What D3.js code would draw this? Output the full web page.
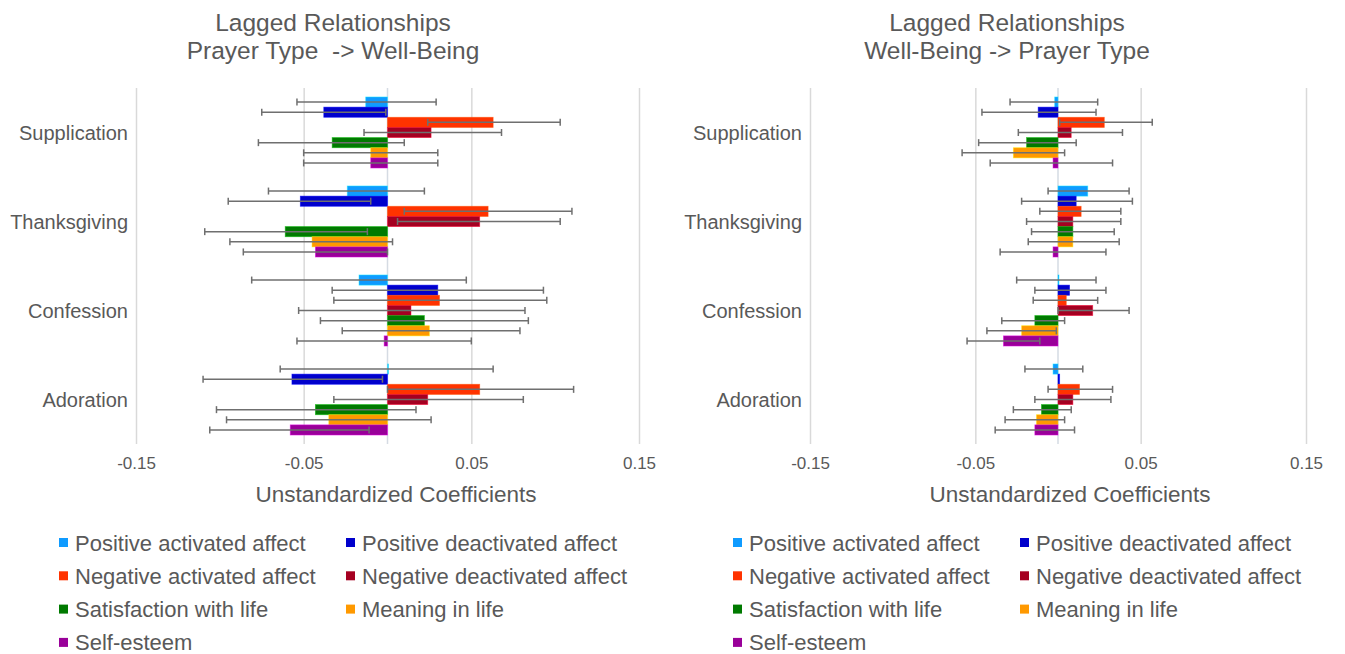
<!DOCTYPE html>
<html>
<head>
<meta charset="utf-8">
<script src="https://cdn.jsdelivr.net/npm/d3@7"></script>
<style>
  body { margin: 0; background: #fff; }
  text { font-family: "Liberation Sans", Arial, sans-serif; fill: #595959; }
</style>
</head>
<body>
<div id="chart"></div>
<script>
var categories = ["Supplication", "Thanksgiving", "Confession", "Adoration"];
var series = ["Positive activated affect", "Positive deactivated affect",
              "Negative activated affect", "Negative deactivated affect",
              "Satisfaction with life", "Meaning in life", "Self-esteem"];
var colors = ["#0f9bff", "#0000cc", "#ff3300", "#a50021", "#007a00", "#ff9900", "#990099"];
var tickValues = [-0.15, -0.05, 0.05, 0.15];

// Prayer Type -> Well-Being (rows = categories, cols = series)
var leftValues = [
  [-0.013, -0.038, 0.063, 0.026, -0.033, -0.010, -0.010],
  [-0.024, -0.052, 0.060, 0.055, -0.061, -0.045, -0.043],
  [-0.017, 0.030, 0.031, 0.014, 0.022, 0.025, -0.002],
  [0.000, -0.057, 0.055, 0.024, -0.043, -0.035, -0.058]
];
var leftLow = [
  [-0.054, -0.075, 0.024, -0.014, -0.077, -0.050, -0.050],
  [-0.071, -0.095, 0.010, 0.006, -0.109, -0.094, -0.086],
  [-0.081, -0.033, -0.032, -0.053, -0.040, -0.027, -0.054],
  [-0.064, -0.110, 0.000, -0.032, -0.102, -0.096, -0.106]
];
var leftHigh = [
  [0.029, -0.001, 0.103, 0.068, 0.010, 0.030, 0.030],
  [0.022, -0.010, 0.110, 0.103, -0.012, 0.003, 0.000],
  [0.047, 0.093, 0.095, 0.082, 0.084, 0.079, 0.050],
  [0.063, -0.003, 0.111, 0.081, 0.017, 0.026, -0.011]
];

// Well-Being -> Prayer Type
var rightValues = [
  [-0.002, -0.012, 0.028, 0.008, -0.019, -0.027, -0.003],
  [0.018, 0.011, 0.014, 0.009, 0.009, 0.009, -0.003],
  [0.000, 0.007, 0.005, 0.021, -0.014, -0.022, -0.033],
  [-0.003, 0.001, 0.013, 0.009, -0.010, -0.013, -0.014]
];
var rightLow = [
  [-0.029, -0.046, 0.001, -0.024, -0.048, -0.058, -0.041],
  [-0.006, -0.022, -0.011, -0.019, -0.016, -0.018, -0.035],
  [-0.025, -0.014, -0.015, 0.000, -0.034, -0.043, -0.055],
  [-0.020, null, -0.006, -0.014, -0.027, -0.032, -0.038]
];
var rightHigh = [
  [0.024, 0.023, 0.057, 0.039, 0.011, 0.004, 0.033],
  [0.043, 0.045, 0.038, 0.038, 0.034, 0.037, 0.029],
  [0.023, 0.029, 0.024, 0.043, 0.004, -0.001, -0.011],
  [0.015, null, 0.033, 0.032, 0.008, 0.004, 0.010]
];

var width = 1345, height = 654,
    plotTop = 88, plotBottom = 444;

var svg = d3.select("#chart")
            .append("svg")
            .attr("width", width)
            .attr("height", height);

function drawChart(left, right, titleLines, values, low, high) {
  var g = svg.append("g");

  var x = d3.scaleLinear().domain([-0.15, 0.15]).range([left, right]);
  var y = d3.scaleBand().domain(categories).range([plotTop, plotBottom]).padding(0);
  var yInner = d3.scaleBand().domain(series).range([0, y.bandwidth()])
                 .paddingInner(0).paddingOuter(0.885);

  // gridlines
  g.append("g")
   .attr("transform", "translate(0," + plotBottom + ")")
   .call(d3.axisBottom(x).tickValues(tickValues).tickSize(-(plotBottom - plotTop)).tickFormat(""))
   .call(function(a) {
     a.select(".domain").remove();
     a.selectAll("line").attr("stroke", "#d9d9d9").attr("stroke-width", 1.5);
   });

  // tick labels
  g.append("g")
   .attr("transform", "translate(0," + (plotBottom + 10) + ")")
   .call(d3.axisBottom(x).tickValues(tickValues).tickSize(0).tickFormat(function(d) { return d.toFixed(2) }))
   .call(function(a) {
     a.select(".domain").remove();
     a.selectAll("text").attr("font-size", "17px").attr("fill", "#595959")
      .style("font-family", "Liberation Sans, Arial, sans-serif");
   });

  // zero line
  g.append("line")
   .attr("x1", x(0)).attr("x2", x(0))
   .attr("y1", plotTop).attr("y2", plotBottom)
   .attr("stroke", "#d5dbe3").attr("stroke-width", 1.5);

  var rows = [];
  categories.forEach(function(c, i) {
    series.forEach(function(s, j) {
      rows.push({ cat: c, ser: s, j: j, v: values[i][j], lo: low[i][j], hi: high[i][j] });
    });
  });

  g.selectAll(".bar")
   .data(rows)
   .enter()
   .append("rect")
   .attr("class", "bar")
   .attr("x", function(d) { return x(Math.min(0, d.v)) })
   .attr("y", function(d) { return y(d.cat) + yInner(d.ser) })
   .attr("width", function(d) { return Math.max(1, Math.abs(x(d.v) - x(0))) })
   .attr("height", yInner.bandwidth())
   .attr("fill", function(d) { return colors[d.j] })
   .attr("stroke", function(d) { return d3.color(colors[d.j]).brighter(1.2) })
   .attr("stroke-opacity", 0.6)
   .attr("stroke-width", 0.8);

  var eb = rows.filter(function(d) { return d.lo != null });
  var cy = function(d) { return y(d.cat) + yInner(d.ser) + yInner.bandwidth() / 2 };

  g.selectAll(".err")
   .data(eb)
   .enter()
   .append("line")
   .attr("class", "err")
   .attr("x1", function(d) { return x(d.lo) })
   .attr("x2", function(d) { return x(d.hi) })
   .attr("y1", cy).attr("y2", cy)
   .attr("stroke", "#6f6f6f").attr("stroke-width", 1.5);

  ["lo", "hi"].forEach(function(k) {
    g.selectAll(".cap-" + k)
     .data(eb)
     .enter()
     .append("line")
     .attr("class", "cap-" + k)
     .attr("x1", function(d) { return x(d[k]) })
     .attr("x2", function(d) { return x(d[k]) })
     .attr("y1", function(d) { return cy(d) - 3.5 })
     .attr("y2", function(d) { return cy(d) + 3.5 })
     .attr("stroke", "#6f6f6f").attr("stroke-width", 1.5);
  });

  // category labels
  g.selectAll(".cat")
   .data(categories)
   .enter()
   .append("text")
   .attr("class", "cat")
   .text(function(d) { return d })
   .attr("x", left - 8)
   .attr("y", function(d) { return y(d) + y.bandwidth() / 2 })
   .attr("text-anchor", "end")
   .attr("dominant-baseline", "central")
   .attr("font-size", "20px");

  // title
  g.selectAll(".title")
   .data(titleLines)
   .enter()
   .append("text")
   .attr("class", "title")
   .text(function(d) { return d })
   .attr("x", left + 197)
   .attr("y", function(d, i) { return 22 + i * 28 })
   .attr("text-anchor", "middle")
   .attr("dominant-baseline", "central")
   .attr("font-size", "24.5px")
   .style("white-space", "pre");

  // axis title
  g.append("text")
   .text("Unstandardized Coefficients")
   .attr("x", left + 260)
   .attr("y", 494)
   .attr("text-anchor", "middle")
   .attr("dominant-baseline", "central")
   .attr("font-size", "22.5px");

  // legend
  var leg = g.selectAll(".leg")
             .data(series)
             .enter()
             .append("g")
             .attr("class", "leg")
             .attr("transform", function(d, i) {
               return "translate(" + (left + (i % 2 ? 210 : -77)) + "," + (543 + Math.floor(i / 2) * 33.3) + ")";
             });
  leg.append("rect")
     .attr("x", 0).attr("y", -5)
     .attr("width", 9).attr("height", 9)
     .attr("fill", function(d, i) { return colors[i] });
  leg.append("text")
     .text(function(d) { return d })
     .attr("x", 16)
     .attr("y", 0)
     .attr("dominant-baseline", "central")
     .attr("font-size", "22px");
}

drawChart(136, 639, ["Lagged Relationships", "Prayer Type  -> Well-Being"], leftValues, leftLow, leftHigh);
drawChart(810, 1306, ["Lagged Relationships", "Well-Being -> Prayer Type"], rightValues, rightLow, rightHigh);
</script>
</body>
</html>
